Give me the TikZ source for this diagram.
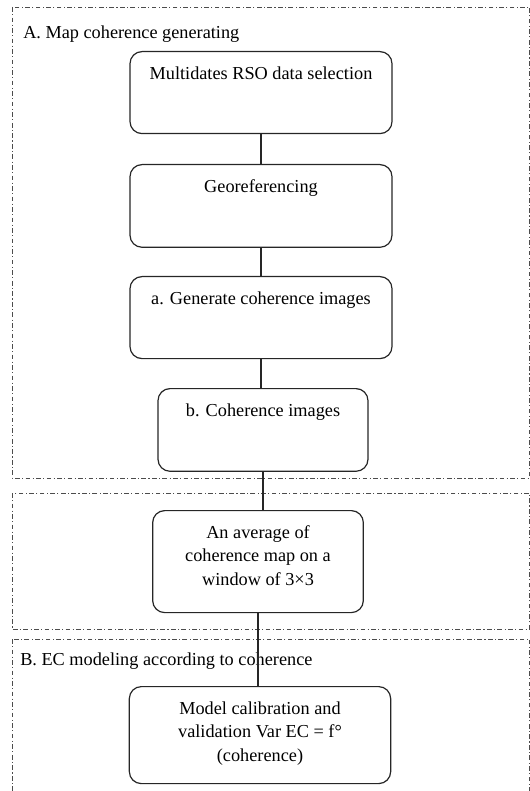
\documentclass[tikz,border=0pt]{standalone}
\usepackage{fontspec}
\setmainfont{Liberation Serif}
\newcommand{\stagetext}[3]{\parbox[c][#2][t]{#1}{\centering\rule{0pt}{21pt}#3}}
\tikzset{
  stage/.style={draw=black!85, line width=0.9pt, rounded corners=9pt, anchor=north, inner sep=0pt},
  frame/.style={draw=black!70, line width=0.6pt, dash pattern=on 3.5pt off 1.8pt on 0.8pt off 1.8pt},
  link/.style={draw=black!85, line width=0.8pt}
}
\begin{document}
\begin{tikzpicture}[x=0.75pt,y=-0.75pt,font=\fontsize{13.7}{17.5}\selectfont]
\useasboundingbox (0,0) rectangle (530,791);
\draw[frame] (12,7) rectangle (529.5,478);
\draw[frame] (12,493) rectangle (529.5,629);
\draw[frame] (12,639) rectangle (529.5,820);
\node[anchor=base west,inner sep=0pt] (labA) at (23,39) {A. Map coherence generating};
\node[anchor=base west,inner sep=0pt] (labB) at (20,665) {B. EC modeling according to coherence};
\node[stage] (sel) at (261,51) {\stagetext{196.5pt}{61.5pt}{Multidates RSO data selection}};
\node[stage] (geo) at (261,164) {\stagetext{196.5pt}{62pt}{Georeferencing}};
\node[stage] (gen) at (261,276) {\stagetext{196.5pt}{61.5pt}{a. Generate coherence images}};
\node[stage] (coh) at (263,388) {\stagetext{157.5pt}{62pt}{b. Coherence images}};
\node[stage] (avg) at (258,510) {\stagetext{158pt}{76.5pt}{An average of\\ coherence map on a\\ window of 3×3}};
\node[stage] (mod) at (260,686) {\stagetext{196pt}{72.75pt}{Model calibration and\\ validation Var EC = f°\\ (coherence)}};
\draw[link] (sel.south) -- (geo.north);
\draw[link] (geo.south) -- (gen.north);
\draw[link] (gen.south) -- (gen.south |- coh.north);
\draw[link] (coh.south) -- (coh.south |- avg.north);
\draw[link] (avg.south) -- (avg.south |- mod.north);
\end{tikzpicture}
\end{document}
